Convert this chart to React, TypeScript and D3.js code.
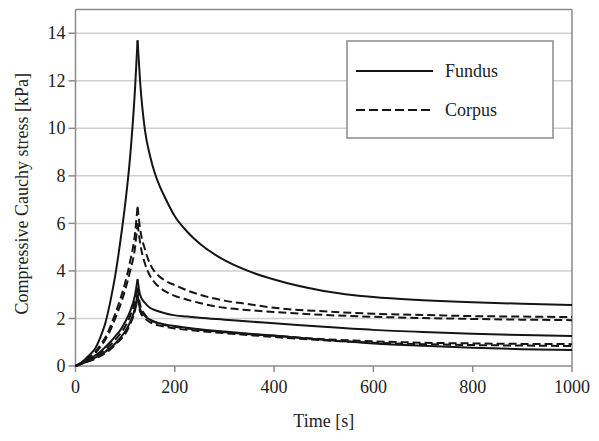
import React from "react";
import * as d3 from "d3";

const W = 599;
const H = 441;

const xTicks = [0, 200, 400, 600, 800, 1000];
const yTicks = [0, 2, 4, 6, 8, 10, 12, 14];

// times (s) for rise and decay phases
const riseT = [0, 10, 20, 30, 40, 50, 60, 70, 80, 90, 100, 110, 120, 125];
const decayT = [125, 130, 140, 150, 160, 170, 180, 200, 225, 250, 300, 350, 400, 500, 600, 700, 800, 900, 1000];

// Fundus (solid)
const fundusA_rise = [0, 0.1, 0.3, 0.5, 0.75, 1.2, 1.8, 2.7, 3.8, 5.2, 6.8, 8.8, 11.7, 13.7];
const fundusA_decay = [13.7, 12.0, 9.9, 8.85, 8.1, 7.55, 7.1, 6.3, 5.65, 5.15, 4.45, 3.98, 3.64, 3.16, 2.9, 2.77, 2.68, 2.62, 2.57];
const fundusB_rise = [0, 0.1, 0.2, 0.3, 0.45, 0.6, 0.8, 1.0, 1.25, 1.5, 1.85, 2.3, 3.0, 3.65];
const fundusB_decay = [3.65, 3.0, 2.65, 2.45, 2.35, 2.28, 2.22, 2.13, 2.08, 2.03, 1.95, 1.87, 1.8, 1.65, 1.52, 1.43, 1.36, 1.3, 1.26];
const fundusC_rise = [0, 0.07, 0.15, 0.25, 0.35, 0.47, 0.6, 0.77, 0.95, 1.18, 1.45, 1.85, 2.45, 3.0];
const fundusC_decay = [3.0, 2.4, 2.1, 1.95, 1.85, 1.8, 1.75, 1.68, 1.61, 1.55, 1.45, 1.36, 1.28, 1.1, 0.95, 0.85, 0.77, 0.71, 0.67];

// Corpus (dashed)
const corpusA_rise = [0, 0.12, 0.25, 0.4, 0.6, 0.88, 1.2, 1.65, 2.2, 2.8, 3.5, 4.4, 5.6, 6.7];
const corpusA_decay = [6.7, 5.8, 4.9, 4.3, 3.95, 3.75, 3.6, 3.4, 3.18, 3.0, 2.75, 2.6, 2.45, 2.3, 2.2, 2.15, 2.1, 2.08, 2.06];
const corpusB_rise = [0, 0.1, 0.22, 0.37, 0.55, 0.8, 1.1, 1.5, 2.0, 2.55, 3.2, 4.0, 5.0, 6.0];
const corpusB_decay = [6.0, 5.2, 4.3, 3.8, 3.5, 3.3, 3.15, 2.95, 2.79, 2.65, 2.45, 2.35, 2.27, 2.15, 2.07, 2.02, 1.98, 1.95, 1.93];
const corpusC_rise = [0, 0.1, 0.2, 0.3, 0.4, 0.55, 0.7, 0.88, 1.1, 1.35, 1.65, 2.1, 2.75, 3.3];
const corpusC_decay = [3.3, 2.6, 2.15, 1.95, 1.85, 1.78, 1.72, 1.65, 1.58, 1.52, 1.42, 1.34, 1.27, 1.13, 1.04, 0.98, 0.95, 0.93, 0.92];
const corpusD_rise = [0, 0.07, 0.15, 0.22, 0.3, 0.42, 0.55, 0.7, 0.9, 1.1, 1.35, 1.75, 2.35, 2.9];
const corpusD_decay = [2.9, 2.3, 2.0, 1.85, 1.75, 1.7, 1.65, 1.58, 1.52, 1.47, 1.38, 1.3, 1.22, 1.08, 0.98, 0.92, 0.88, 0.86, 0.84];

const seriesNames = ["Fundus", "Corpus"];

type Series = { rise: number[]; decay: number[]; dashed: boolean };
const series: Series[] = [
  { rise: corpusA_rise, decay: corpusA_decay, dashed: true },
  { rise: corpusB_rise, decay: corpusB_decay, dashed: true },
  { rise: corpusC_rise, decay: corpusC_decay, dashed: true },
  { rise: corpusD_rise, decay: corpusD_decay, dashed: true },
  { rise: fundusA_rise, decay: fundusA_decay, dashed: false },
  { rise: fundusB_rise, decay: fundusB_decay, dashed: false },
  { rise: fundusC_rise, decay: fundusC_decay, dashed: false },
];

const L = 75.5, R = 572, T = 9.5, B = 366;
const FONT = "'Liberation Serif', 'Times New Roman', serif";

export default function App() {
  const x = d3.scaleLinear().domain([0, 1000]).range([L, R]);
  const y = d3.scaleLinear().domain([0, 15]).range([B, T]);
  const line = d3
    .line<[number, number]>()
    .x((d) => x(d[0]))
    .y((d) => y(d[1]))
    .curve(d3.curveMonotoneX);

  const ink = "#151515";
  const axisCol = "#8a8a8a";
  const gridCol = "#d0d0d0";

  return (
    <svg width={W} height={H} style={{ position: "absolute", left: 0, top: 0, background: "#fff" }}>
      <rect x={0} y={0} width={W} height={H} fill="#fff" />
      {yTicks.filter((v) => v > 0).map((v) => (
        <line key={"g" + v} x1={L} x2={R} y1={y(v)} y2={y(v)} stroke={gridCol} strokeWidth={1.5} />
      ))}
      {/* plot box */}
      <line x1={L} x2={R} y1={T} y2={T} stroke={axisCol} strokeWidth={1.5} />
      <line x1={R} x2={R} y1={T} y2={B} stroke={axisCol} strokeWidth={1.5} />
      <line x1={L} x2={L} y1={T} y2={B} stroke={axisCol} strokeWidth={1.5} />
      <line x1={L} x2={R} y1={B} y2={B} stroke={axisCol} strokeWidth={1.5} />
      {yTicks.map((v) => (
        <g key={"y" + v}>
          <line x1={L - 7} x2={L} y1={y(v)} y2={y(v)} stroke={axisCol} strokeWidth={1.5} />
          <text x={L - 10} y={y(v)} dy="0.34em" textAnchor="end" fontFamily={FONT} fontSize={18} fill="#222">
            {v}
          </text>
        </g>
      ))}
      {xTicks.map((v) => (
        <g key={"x" + v}>
          <line x1={x(v)} x2={x(v)} y1={B} y2={B + 6} stroke={axisCol} strokeWidth={1.5} />
          <text x={x(v)} y={393} textAnchor="middle" fontFamily={FONT} fontSize={18} fill="#222">
            {v}
          </text>
        </g>
      ))}
      {series.map((s, i) => {
        const r: [number, number][] = riseT.map((t, k) => [t, s.rise[k]]);
        const dcy: [number, number][] = decayT.map((t, k) => [t, s.decay[k]]);
        return (
          <g key={"s" + i} fill="none" stroke={ink} strokeWidth={2} strokeDasharray={s.dashed ? "8,4" : undefined}>
            <path d={line(r) || ""} />
            <path d={line(dcy) || ""} />
          </g>
        );
      })}
      {/* legend */}
      <rect x={347} y={41} width={206} height={97} fill="#fff" stroke={axisCol} strokeWidth={1.5} />
      <line x1={356} x2={433} y1={71} y2={71} stroke={ink} strokeWidth={2} />
      <text x={445} y={71} dy="0.34em" fontFamily={FONT} fontSize={18} fill="#222">
        {seriesNames[0]}
      </text>
      <line x1={356} x2={433} y1={110} y2={110} stroke={ink} strokeWidth={2} strokeDasharray="9,4" />
      <text x={445} y={110} dy="0.34em" fontFamily={FONT} fontSize={18} fill="#222">
        {seriesNames[1]}
      </text>
      {/* axis titles */}
      <text x={(L + R) / 2} y={427} textAnchor="middle" fontFamily={FONT} fontSize={18} fill="#222">
        Time [s]
      </text>
      <text
        transform={`translate(28, ${(T + B) / 2 + 6}) rotate(-90)`}
        textAnchor="middle"
        fontFamily={FONT}
        fontSize={18}
        fill="#222"
      >
        Compressive Cauchy stress [kPa]
      </text>
    </svg>
  );
}
